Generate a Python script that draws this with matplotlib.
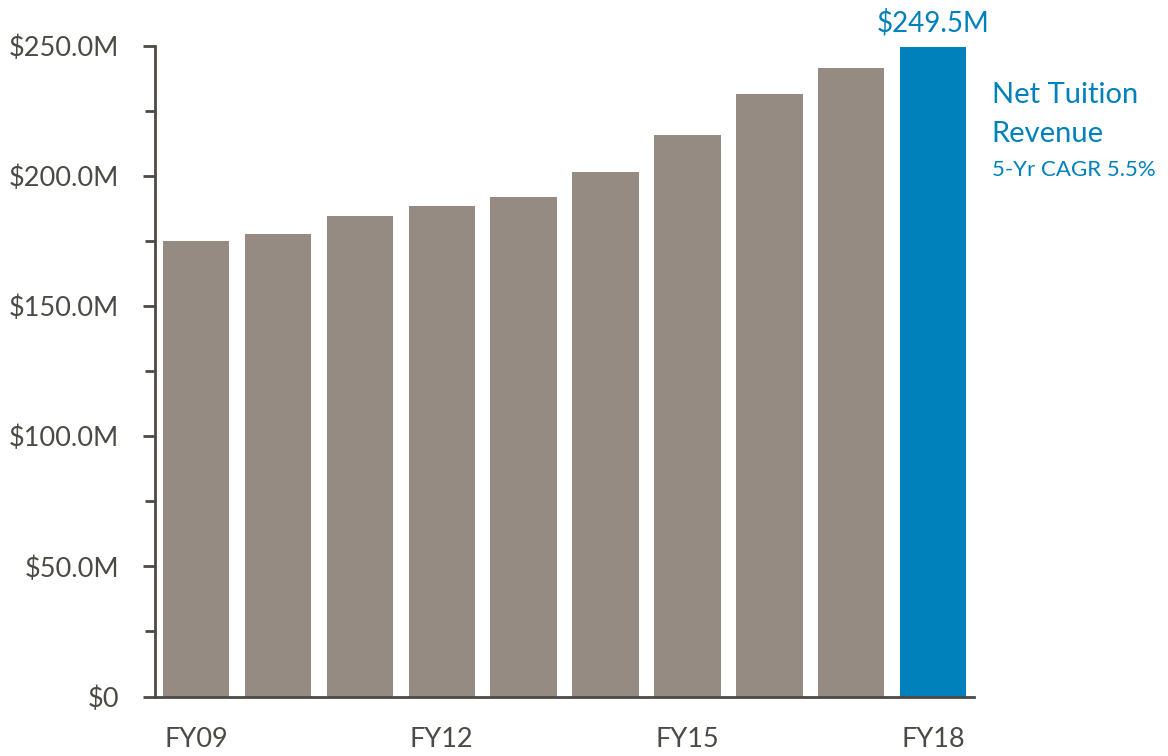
import matplotlib
matplotlib.use("Agg")
import matplotlib.pyplot as plt
from matplotlib.ticker import MultipleLocator, FuncFormatter

plt.rcParams['font.family'] = ['Lato', 'DejaVu Sans']

years = ['FY09', 'FY10', 'FY11', 'FY12', 'FY13', 'FY14', 'FY15', 'FY16', 'FY17', 'FY18']
revenue = [175.0, 177.5, 184.7, 188.5, 192.0, 201.6, 215.8, 231.5, 241.2, 249.5]
shown_labels = ['FY09', 'FY12', 'FY15', 'FY18']

gray = '#958b82'
blue = '#0081bb'
axis_col = '#4d4a45'

fig = plt.figure(figsize=(11.68, 7.56), dpi=100)
ax = fig.add_axes([0.1327, 0.0787, 0.7013, 0.8611])

colors = [gray] * (len(years) - 1) + [blue]
ax.bar(range(len(years)), revenue, width=0.81, color=colors)

ax.set_xlim(-0.5, len(years) - 0.5)
ax.set_ylim(0, 250)

ax.yaxis.set_major_locator(MultipleLocator(50))
ax.yaxis.set_minor_locator(MultipleLocator(25))

def fmt(v, pos):
    return '$0' if v == 0 else f'${v:.1f}M'

ax.yaxis.set_major_formatter(FuncFormatter(fmt))
ax.tick_params(axis='y', which='both', length=9, width=2, color=axis_col,
               labelsize=19.5, labelcolor=axis_col, pad=17)
ax.tick_params(axis='y', which='minor', length=7)

ax.set_xticks(range(len(years)))
ax.set_xticklabels([y if y in shown_labels else '' for y in years])
ax.tick_params(axis='x', length=0, labelsize=19.5, labelcolor=axis_col, pad=22)

for s in ['top', 'right']:
    ax.spines[s].set_visible(False)
for s in ['left', 'bottom']:
    ax.spines[s].set_color(axis_col)
    ax.spines[s].set_linewidth(2)

ax.text(len(years) - 1, revenue[-1] + 4, f'${revenue[-1]}M', ha='center', va='bottom',
        fontsize=20, color=blue, clip_on=False)

fig.text(0.849, 0.874, 'Net Tuition', ha='left', va='center', fontsize=21, color=blue)
fig.text(0.849, 0.823, 'Revenue', ha='left', va='center', fontsize=21, color=blue)
fig.text(0.849, 0.775, '5-Yr CAGR 5.5%', ha='left', va='center', fontsize=16, color=blue)

fig.savefig('out.png', dpi=100)
